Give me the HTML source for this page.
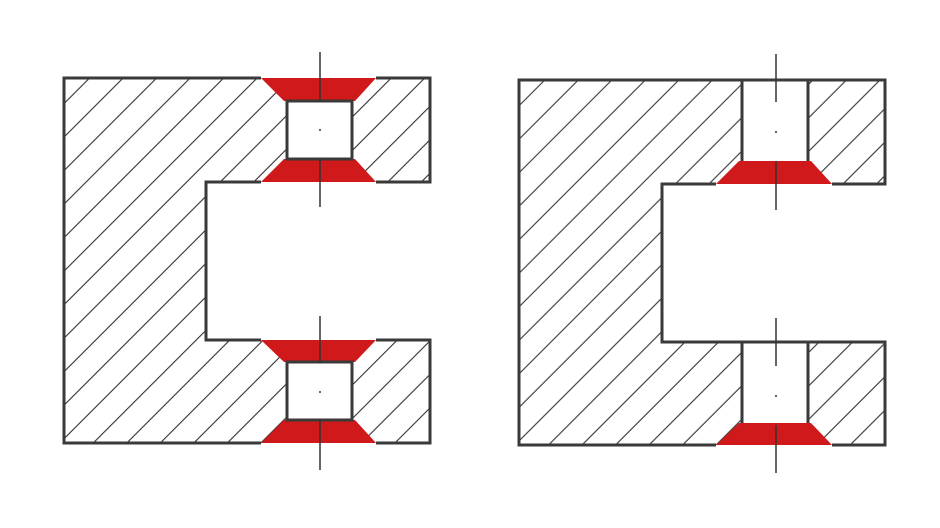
<!DOCTYPE html>
<html><head><style>html,body{margin:0;padding:0;background:#fff}svg{display:block}</style></head>
<body>
<svg width="940" height="528" viewBox="0 0 940 528" xmlns="http://www.w3.org/2000/svg">
<defs>
<pattern id="h" patternUnits="userSpaceOnUse" width="23.7" height="20" patternTransform="rotate(45)">
<line x1="15.2" y1="-5" x2="15.2" y2="25" stroke="#333" stroke-width="1.1"/>
</pattern>
<pattern id="h2" patternUnits="userSpaceOnUse" width="23.7" height="20" patternTransform="rotate(45)">
<line x1="11.85" y1="-5" x2="11.85" y2="25" stroke="#333" stroke-width="1.1" transform="translate(-11.85,0)"/>
<line x1="11.85" y1="-5" x2="11.85" y2="25" stroke="#333" stroke-width="1.1" transform="translate(11.85,0)"/>
</pattern>
</defs>
<polygon fill="url(#h2)" points="64,78 430,78 430,182 206,182 206,340 430,340 430,443 64,443"/>
<polygon fill="url(#h)" points="519,80 885,80 885,184 662,184 662,342 885,342 885,445 519,445"/>
<g fill="#fff">
<rect x="287" y="101" width="65" height="58"/>
<rect x="287" y="362" width="65" height="58"/>
<rect x="742" y="80" width="66" height="81"/>
<rect x="742" y="342" width="66" height="81"/>
</g>
<g fill="#d0191b">
<polygon points="261,78 376,78 355,101 284,101"/>
<polygon points="284,159 355,159 376,182 261,182"/>
<polygon points="261,340 376,340 355,362 284,362"/>
<polygon points="284,420 355,420 376,443 261,443"/>
<polygon points="739,161 811,161 832,184 716,184"/>
<polygon points="739,423 811,423 832,445 716,445"/>
</g>
<g fill="none" stroke="#3a3a3a" stroke-width="3">
<polyline points="261,78 64,78 64,443 261,443"/>
<polyline points="376,78 430,78 430,182 376,182"/>
<polyline points="261,182 206,182 206,340 261,340"/>
<polyline points="376,340 430,340 430,443 376,443"/>
<rect x="287" y="101" width="65" height="58"/>
<rect x="287" y="362" width="65" height="58"/>
<polyline points="716,445 519,445 519,80 885,80 885,184 832,184"/>
<polyline points="716,184 662,184 662,342 885,342 885,445 832,445"/>
<polyline points="742,80 742,161"/>
<polyline points="808,80 808,161"/>
<polyline points="742,342 742,423"/>
<polyline points="808,342 808,423"/>
</g>
<g stroke="#333" stroke-width="1.5">
<line x1="320" y1="52" x2="320" y2="101"/>
<line x1="320" y1="159" x2="320" y2="207"/>
<line x1="320" y1="316" x2="320" y2="362"/>
<line x1="320" y1="420" x2="320" y2="470"/>
<line x1="776" y1="54" x2="776" y2="102"/>
<line x1="776" y1="161" x2="776" y2="210"/>
<line x1="776" y1="318" x2="776" y2="366"/>
<line x1="776" y1="425" x2="776" y2="473"/>
</g>
<g fill="#333">
<circle cx="320" cy="130" r="1"/>
<circle cx="320" cy="392" r="1"/>
<circle cx="776" cy="132" r="1"/>
<circle cx="776" cy="396" r="1"/>
</g>
</svg>
</body></html>
